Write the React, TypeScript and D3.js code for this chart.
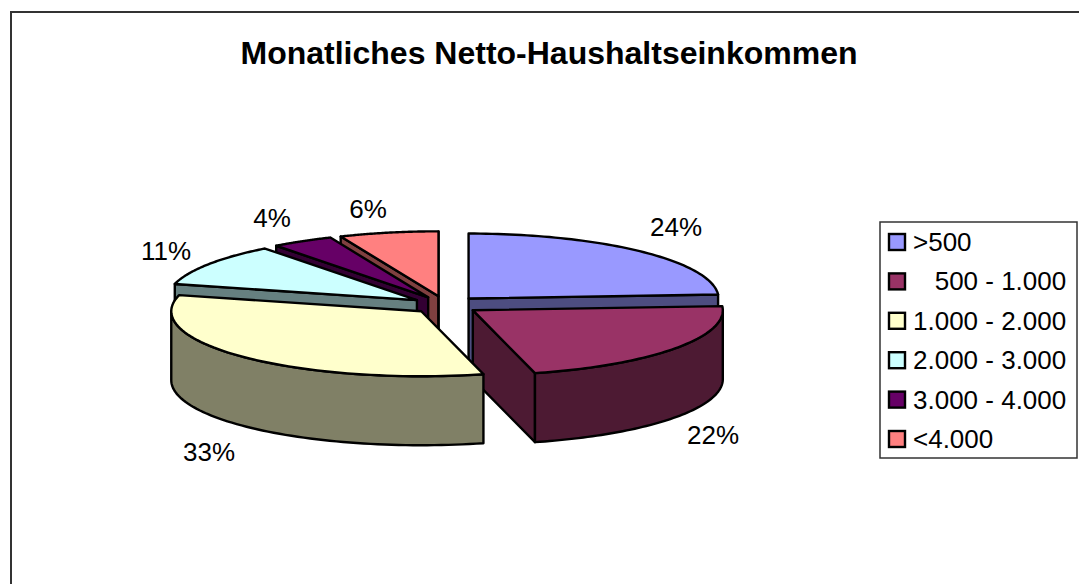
import React from "react";
import * as d3 from "d3";

const title = "Monatliches Netto-Haushaltseinkommen";
const categories = [">500", "   500 - 1.000", "1.000 - 2.000", "2.000 - 3.000", "3.000 - 4.000", "<4.000"];
const values = [24, 22, 33, 10.6, 4, 6.4];
const topColors = ["#9999ff", "#993366", "#ffffcc", "#ccffff", "#660066", "#ff8080"];
const wallColors = ["#4d4d80", "#4d1a33", "#808066", "#668080", "#330033", "#804040"];
const paintOrder = [5, 4, 3, 0, 1, 2];
const labelAnchors = [
  { x: 676, y: 236 },
  { x: 713, y: 444 },
  { x: 209, y: 461 },
  { x: 166, y: 260 },
  { x: 272, y: 227 },
  { x: 368, y: 218 },
];

const CX = 445.3, CY = 305, RX = 250, RY = 65, DEPTH = 69, EXPLODE = 34;
const FONT = "'Liberation Sans', Arial, sans-serif";

const pie = d3.pie<number>().sort(null).value((d) => d);
const arcs = pie(values);
const line = d3.line<[number, number]>();

function poly(pts: [number, number][]) {
  return line(pts) + "Z";
}

export default function App() {
  const faces = paintOrder.map((i) => {
    const a = arcs[i];
    const bis = (a.startAngle + a.endAngle) / 2;
    const ox = CX + EXPLODE * Math.sin(bis);
    const oy = CY - (EXPLODE * RY * Math.cos(bis)) / RX;
    const pt = (t: number, dz = 0): [number, number] => [
      ox + RX * Math.sin(t),
      oy - RY * Math.cos(t) + dz,
    ];
    const apex: [number, number] = [ox, oy];
    const apexLow: [number, number] = [ox, oy + DEPTH];
    const n = 64;
    const ts = d3.range(n + 1).map((k) => a.startAngle + ((a.endAngle - a.startAngle) * k) / n);
    const top = poly([apex, ...ts.map((t) => pt(t))]);
    const paths: { d: string; fill: string }[] = [];
    if (Math.sin(a.startAngle) < 0) {
      const t = a.startAngle;
      paths.push({ d: poly([apex, pt(t), pt(t, DEPTH), apexLow]), fill: wallColors[i] });
    }
    if (Math.sin(a.endAngle) > 0) {
      const t = a.endAngle;
      paths.push({ d: poly([apex, pt(t), pt(t, DEPTH), apexLow]), fill: wallColors[i] });
    }
    const lo = Math.max(a.startAngle, Math.PI / 2);
    const hi = Math.min(a.endAngle, (3 * Math.PI) / 2);
    if (hi > lo) {
      const ws = d3.range(n + 1).map((k) => lo + ((hi - lo) * k) / n);
      paths.push({
        d: poly([...ws.map((t) => pt(t)), ...ws.slice().reverse().map((t) => pt(t, DEPTH))]),
        fill: wallColors[i],
      });
    }
    paths.push({ d: top, fill: topColors[i] });
    return { i, paths };
  });

  return (
    <svg
      width={1079}
      height={584}
      style={{ position: "absolute", left: 0, top: 0, background: "#fff" }}
      fontFamily={FONT}
    >
      <path d="M11,584V12H1079" fill="none" stroke="#333" strokeWidth={2} />
      <text x={549} y={64} textAnchor="middle" fontSize={32} fontWeight="bold" fill="#000">
        {title}
      </text>
      {faces.map((f) => (
        <g key={f.i}>
          {f.paths.map((p, j) => (
            <path key={j} d={p.d} fill={p.fill} stroke="#000" strokeWidth={2.4} strokeLinejoin="round" />
          ))}
        </g>
      ))}
      {values.map((v, i) => (
        <text key={i} x={labelAnchors[i].x} y={labelAnchors[i].y} textAnchor="middle" fontSize={26} fill="#000">
          {Math.round(v)}%
        </text>
      ))}
      <rect x={880} y={222} width={197} height={236} fill="#fff" stroke="#333" strokeWidth={1.5} />
      {categories.map((c, i) => (
        <g key={i} transform={`translate(0,${d3.scaleLinear().domain([0, 5]).range([242, 439])(i)})`}>
          <rect x={889} y={-8} width={16} height={16} fill={topColors[i]} stroke="#000" strokeWidth={2.4} />
          <text x={913} y={9} fontSize={26} fill="#000" style={{ whiteSpace: "pre" }}>
            {c}
          </text>
        </g>
      ))}
    </svg>
  );
}
